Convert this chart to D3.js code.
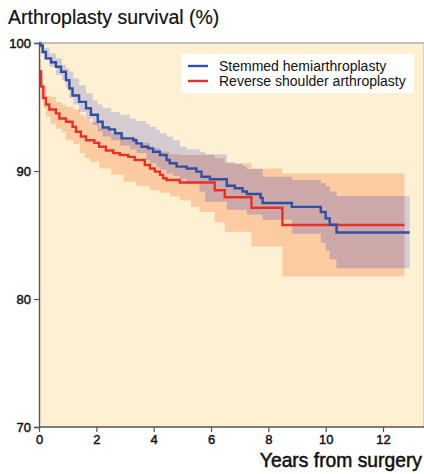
<!DOCTYPE html>
<html>
<head>
<meta charset="utf-8">
<script src="https://cdn.jsdelivr.net/npm/d3@7"></script>
<style>
  body { margin: 0; background: #fff; }
  text { font-family: "Liberation Sans", Arial, sans-serif; }
</style>
</head>
<body>
<div id="chart"></div>
<script>
// stemmed hemiarthroplasty (blue)
var shTime = [0, 0.05, 0.13, 0.24, 0.42, 0.59, 0.77, 0.94, 1.06, 1.17, 1.4, 1.64, 1.81, 2.05, 2.22, 2.44, 2.65, 2.88,
  3.29, 3.4, 3.58, 3.81, 3.98, 4.22, 4.45, 4.56, 4.8, 5.15, 5.49, 5.67, 5.96, 6.55, 6.83, 7.1, 7.25, 7.73, 7.8,
  8.82, 9.83, 10.0, 10.14, 10.38, 12.93];
var shSurv = [100, 99.8, 99.3, 98.8, 98.5, 98.15, 97.75, 97.1, 96.45, 95.9, 95.4, 94.9, 94.4, 93.85, 93.4, 93.25, 92.95, 92.55,
  92.4, 92.16, 91.9, 91.77, 91.5, 91.25, 90.86, 90.6, 90.34, 90.2, 89.95, 89.55, 89.35, 88.85, 88.65, 88.4, 88.2, 87.9, 87.5,
  87.2, 86.8, 86.3, 85.8, 85.2, 85.2];
var shCiTime = [0, 0.07, 0.18, 0.36, 0.59, 0.8, 0.94, 1.06, 1.2, 1.4, 1.64, 1.87, 2.05, 2.22, 2.52, 2.82, 3.17, 3.4, 3.75,
  3.87, 4.1, 4.22, 4.45, 4.68, 4.91, 5.15, 5.6, 5.8, 6.55, 6.83, 7.1, 7.25, 7.8, 8.82, 9.83, 10.0, 10.14, 10.38, 12.93];
var shCiLow = [99.6, 99.2, 98.7, 98.15, 97.5, 97.1, 96.5, 95.7, 95.2, 94.6, 94.1, 93.6, 93.1, 92.7, 92.4, 92.0, 91.7, 91.4, 90.86,
  90.6, 90.3, 90.1, 89.8, 89.6, 89.4, 89.0, 88.4, 87.6, 87.0, 86.95, 86.95, 86.6, 86.2, 85.1, 84.4, 83.8, 83.1, 82.4, 82.4];
var shCiHigh = [100, 100, 99.6, 99.2, 98.8, 98.3, 98.0, 97.76, 97.24, 96.7, 96.07, 95.5, 95.2, 94.9, 94.6, 94.4, 94.1, 93.9, 93.7,
  93.46, 93.2, 92.95, 92.7, 92.4, 91.9, 91.7, 91.5, 91.3, 90.7, 90.55, 90.4, 90.15, 89.56, 89.3, 89.04, 88.8, 88.4, 88.05, 88.05];

// reverse shoulder arthroplasty (red)
var rsaTime = [0, 0.07, 0.15, 0.24, 0.36, 0.59, 0.71, 0.94, 1.17, 1.29, 1.46, 1.64, 1.93, 2.1, 2.33, 2.59, 2.82, 3.11,
  3.34, 3.69, 3.87, 4.04, 4.22, 4.33, 4.45, 4.91, 6.13, 6.48, 7.41, 8.49, 12.75];
var rsaSurv = [97.8, 96.6, 95.7, 95.2, 94.8, 94.5, 94.1, 93.85, 93.45, 93.07, 92.7, 92.4, 92.2, 91.9, 91.6, 91.4, 91.25, 91.1,
  90.86, 90.47, 90.2, 89.95, 89.7, 89.43, 89.3, 89.1, 88.5, 87.95, 87.13, 85.78, 85.78];
var rsaCiTime = [0, 0.07, 0.15, 0.25, 0.4, 0.6, 0.8, 0.94, 1.2, 1.43, 1.6, 1.78, 2.1, 2.52, 2.95, 3.4, 3.87, 4.22, 4.56,
  4.91, 5.3, 5.6, 6.13, 6.48, 7.41, 8.49, 12.75];
var rsaCiLow = [96.9, 95.6, 94.9, 94.25, 93.7, 93.3, 93.0, 92.4, 92.1, 91.4, 91.0, 90.73, 90.2, 89.7, 89.16, 88.8, 88.5, 88.3, 88.0,
  87.7, 87.2, 86.8, 86.0, 85.26, 84.1, 81.75, 81.75];
var rsaCiHigh = [98.7, 97.6, 96.6, 95.9, 95.8, 95.4, 95.2, 95.0, 94.8, 94.4, 94.1, 93.8, 93.3, 92.9, 92.55, 92.2, 91.8, 91.5, 91.3,
  91.25, 91.25, 91.25, 91.0, 90.6, 90.2, 89.8, 89.8];

var xTicks = [0, 2, 4, 6, 8, 10, 12];
var yTicks = [70, 80, 90, 100];
var seriesNames = ["Stemmed hemiarthroplasty", "Reverse shoulder arthroplasty"];

var W = 424, H = 474;
var margin = { top: 43, right: 0, bottom: 47, left: 39 };
var innerW = W - margin.left - margin.right,
    innerH = H - margin.top - margin.bottom;

var svg = d3.select("#chart").append("svg")
    .attr("width", W)
    .attr("height", H);

var x = d3.scaleLinear().domain([0, 13.43]).range([margin.left, margin.left + innerW]);
var y = d3.scaleLinear().domain([70, 100]).range([margin.top + innerH, margin.top]);

function zipLine(t, v) { return t.map(function (d, i) { return [d, v[i]]; }); }
function zipBand(t, lo, hi) { return t.map(function (d, i) { return [d, lo[i], hi[i]]; }); }

var line = d3.line().curve(d3.curveStepAfter)
    .x(function (d) { return x(d[0]); })
    .y(function (d) { return y(d[1]); });
var band = d3.area().curve(d3.curveStepAfter)
    .x(function (d) { return x(d[0]); })
    .y0(function (d) { return y(d[1]); })
    .y1(function (d) { return y(d[2]); });

// plot background
svg.append("rect")
    .attr("x", margin.left).attr("y", margin.top)
    .attr("width", innerW).attr("height", innerH)
    .attr("fill", "#fef0d2");

var shBand = zipBand(shCiTime, shCiLow, shCiHigh);
var rsaBand = zipBand(rsaCiTime, rsaCiLow, rsaCiHigh);

svg.append("clipPath").attr("id", "shClip")
    .append("path").attr("d", band(shBand));

svg.append("path").attr("d", band(rsaBand)).attr("fill", "#fccba1");
svg.append("path").attr("d", band(shBand)).attr("fill", "#d4ccd1");
// overlap of the two bands
svg.append("path").attr("d", band(rsaBand)).attr("fill", "#cda8a9")
    .attr("clip-path", "url(#shClip)");

svg.append("path").attr("d", line(zipLine(rsaTime, rsaSurv)))
    .attr("fill", "none").attr("stroke", "#e8302b").attr("stroke-width", 2.4);
svg.append("path").attr("d", line(zipLine(shTime, shSurv)))
    .attr("fill", "none").attr("stroke", "#2f4fa4").attr("stroke-width", 2.4);

// top / right border
svg.append("line")
    .attr("x1", margin.left).attr("x2", W).attr("y1", margin.top).attr("y2", margin.top)
    .attr("stroke", "#8a8a8a").attr("stroke-width", 1.2);
svg.append("line")
    .attr("x1", W - 0.5).attr("x2", W - 0.5).attr("y1", margin.top).attr("y2", margin.top + innerH)
    .attr("stroke", "#cfcfcf").attr("stroke-width", 1);

// axes
var xAxis = svg.append("g")
    .attr("transform", "translate(0," + (margin.top + innerH) + ")")
    .call(d3.axisBottom(x).tickValues(xTicks).tickSize(5).tickPadding(3).tickFormat(d3.format("d")));
var yAxis = svg.append("g")
    .attr("transform", "translate(" + margin.left + ",0)")
    .call(d3.axisLeft(y).tickValues(yTicks).tickSize(5).tickPadding(3).tickFormat(d3.format("d")));

[xAxis, yAxis].forEach(function (g) {
    g.select(".domain").attr("stroke", "#555").attr("stroke-width", 1.4);
    g.selectAll(".tick line").attr("stroke", "#555").attr("stroke-width", 1.2);
    g.selectAll(".tick text").attr("fill", "#111").style("font-size", "13px")
        .attr("stroke", "#111").attr("stroke-width", 0.45)
        .style("font-family", "'Liberation Sans', Arial, sans-serif");
});
xAxis.select(".domain").attr("d", "M" + margin.left + ",0H" + W);

// titles
svg.append("text")
    .attr("x", 8).attr("y", 24)
    .attr("fill", "#111")
    .attr("stroke", "#111").attr("stroke-width", 0.2)
    .style("font-size", "19.5px")
    .text("Arthroplasty survival (%)");
svg.append("text")
    .attr("x", 422).attr("y", 467)
    .attr("text-anchor", "end")
    .attr("fill", "#111")
    .attr("stroke", "#111").attr("stroke-width", 0.5)
    .style("font-size", "19.3px")
    .text("Years from surgery");

// legend
var legend = svg.append("g");
legend.append("rect")
    .attr("x", 181).attr("y", 54).attr("width", 233).attr("height", 39)
    .attr("fill", "#fff");
var legColors = ["#2f4fa4", "#e8302b"];
seriesNames.forEach(function (name, i) {
    var ly = 66 + i * 15;
    legend.append("line")
        .attr("x1", 188).attr("x2", 208).attr("y1", ly).attr("y2", ly)
        .attr("stroke", legColors[i]).attr("stroke-width", 2.4);
    legend.append("text")
        .attr("x", 219).attr("y", ly + 5)
        .attr("fill", "#111")
        .style("font-size", "14px")
        .text(name);
});
</script>
</body>
</html>
